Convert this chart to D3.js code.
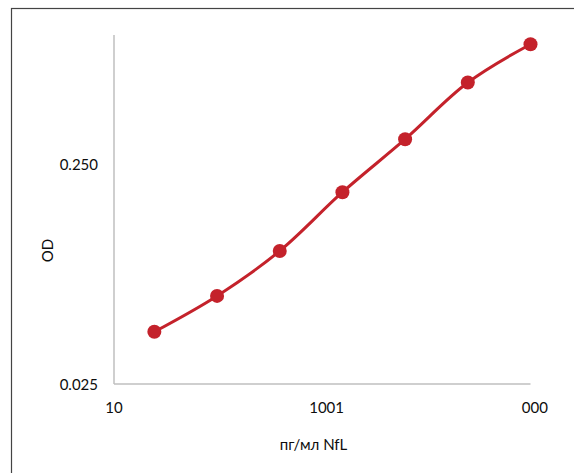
<!DOCTYPE html>
<html>
<head>
<meta charset="utf-8">
<script src="https://cdn.jsdelivr.net/npm/d3@7"></script>
<style>
  html, body { margin: 0; padding: 0; background: #fff; }
  svg { display: block; font-family: Lato, "Open Sans", sans-serif; }
</style>
</head>
<body>
<svg id="chart" width="574" height="473"></svg>
<script>
// Standard curve: concentration (pg/ml) vs optical density
const concentrations = [15.625, 31.25, 62.5, 125, 250, 500, 1000];
const odValues = [0.0433, 0.0631, 0.1012, 0.1876, 0.3275, 0.594, 0.889];

const xTickValues = [10, 100, 1000];
const xTickLabels = ["10", "1001", "000"];
const yTickValues = [0.025, 0.25];
const yTickLabels = ["0.025", "0.250"];

const xTitle = "пг/мл NfL";
const yTitle = "OD";

const svg = d3.select("#chart");

// outer chart frame
svg.append("rect")
  .attr("x", 11.5).attr("y", 8.5)
  .attr("width", 620).attr("height", 500)
  .attr("fill", "none")
  .attr("stroke", "#444")
  .attr("stroke-width", 1.2);

const x = d3.scaleLog().domain([10, 1000]).range([114, 530.5]);
const y = d3.scaleLog().domain([0.025, 1]).range([384, 33]);

const axisColor = "#bfbfbf";

// y axis line
svg.append("line")
  .attr("x1", x(10)).attr("x2", x(10))
  .attr("y1", y(1) + 2).attr("y2", y(0.025))
  .attr("stroke", axisColor).attr("stroke-width", 1.5);

// x axis line
svg.append("line")
  .attr("x1", x(10)).attr("x2", x(1000))
  .attr("y1", y(0.025)).attr("y2", y(0.025))
  .attr("stroke", axisColor).attr("stroke-width", 1.5);

const labelFont = 15;

// y tick labels
svg.selectAll("text.ytick")
  .data(yTickValues)
  .join("text")
  .attr("class", "ytick")
  .attr("x", 98)
  .attr("y", d => y(d) + 5.5)
  .attr("text-anchor", "end")
  .attr("font-size", labelFont)
  .attr("fill", "#0d0d0d")
  .text((d, i) => yTickLabels[i]);

// x tick labels: each label is shifted so that it sits where its
// nominal value's text would, with the extra/missing digit on the right
const xt = svg.selectAll("text.xtick")
  .data(xTickValues)
  .join("text")
  .attr("class", "xtick")
  .attr("x", d => x(d))
  .attr("y", 412.5)
  .attr("text-anchor", "middle")
  .attr("font-size", labelFont)
  .attr("fill", "#0d0d0d")
  .text((d, i) => xTickLabels[i]);

const probe = svg.append("text").attr("font-size", labelFont).attr("visibility", "hidden");
xt.each(function (d, i) {
  probe.text(String(d));
  const nominal = probe.node().getComputedTextLength();
  const actual = this.getComputedTextLength();
  d3.select(this).attr("dx", Math.abs(actual - nominal) / 2);
});
probe.remove();

// axis titles
svg.append("text")
  .attr("transform", "translate(52.5,250.5) rotate(-90)")
  .attr("text-anchor", "middle")
  .attr("font-size", labelFont)
  .attr("fill", "#0d0d0d")
  .text(yTitle);

svg.append("text")
  .attr("x", 313.5)
  .attr("y", 450)
  .attr("text-anchor", "middle")
  .attr("font-size", labelFont)
  .attr("fill", "#0d0d0d")
  .text(xTitle);

const red = "#c4222b";
const pts = concentrations.map((c, i) => [c, odValues[i]]);

// smoothed curve through the standards
svg.append("path")
  .datum(pts)
  .attr("fill", "none")
  .attr("stroke", red)
  .attr("stroke-width", 3)
  .attr("d", d3.line()
    .x(d => x(d[0]))
    .y(d => y(d[1]))
    .curve(d3.curveCatmullRom.alpha(0.5)));

svg.selectAll("circle.pt")
  .data(pts)
  .join("circle")
  .attr("class", "pt")
  .attr("cx", d => x(d[0]))
  .attr("cy", d => y(d[1]))
  .attr("r", 7)
  .attr("fill", red);
</script>
</body>
</html>
